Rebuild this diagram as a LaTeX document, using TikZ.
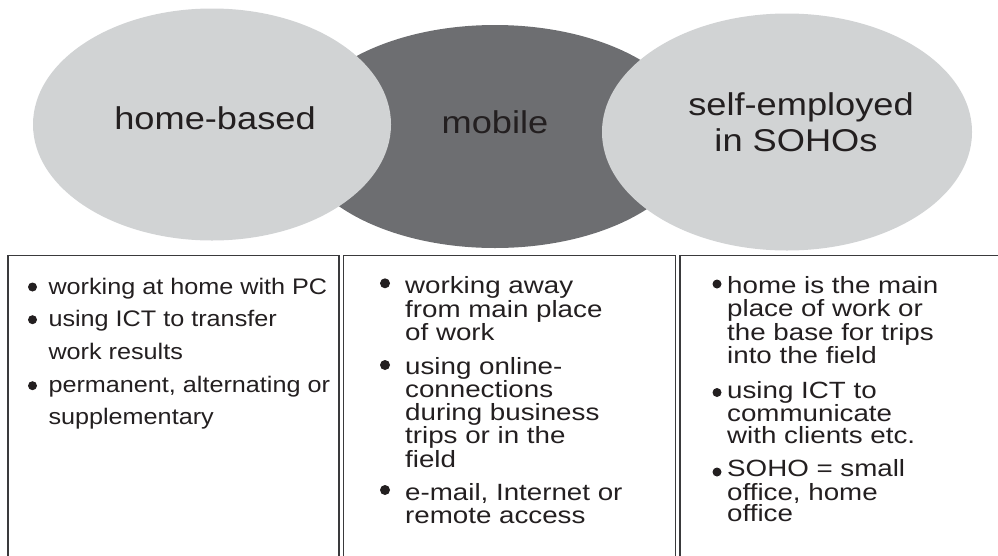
\documentclass[tikz,border=0pt]{standalone}
\usepackage{fontspec}
\setmainfont{Liberation Sans}
\newfontfamily\headfont[FakeStretch=1.15]{Liberation Sans}
\newfontfamily\boxfont[FakeStretch=1.18]{Liberation Sans}
\newfontfamily\boxfontA[FakeStretch=1.12]{Liberation Sans}
\usetikzlibrary{shapes.geometric}
\definecolor{lightg}{HTML}{D1D3D4}
\definecolor{darkg}{HTML}{6D6E71}
\definecolor{ink}{HTML}{231F20}
\definecolor{frame}{HTML}{3A3A3C}
\begin{document}
\begin{tikzpicture}[x=1pt,y=-1pt,
  blob/.style={ellipse, inner sep=0pt},
  head/.style={anchor=base, inner sep=0pt, text=ink, font=\headfont\fontsize{31.5}{36}\selectfont},
  panel/.style={draw=frame, line width=1.3pt, rectangle, anchor=north west, inner sep=0pt},
  itemA/.style={anchor=base west, inner sep=0pt, text=ink, font=\boxfontA\fontsize{22.5}{24}\selectfont},
  itemB/.style={anchor=base west, inner sep=0pt, text=ink, font=\boxfont\fontsize{23.5}{24}\selectfont},
  dot/.style={circle, fill=ink, inner sep=0pt, minimum size=#1},
  dot/.default=8pt]
\useasboundingbox (0,0) rectangle (998,555);
\clip (0,0) rectangle (998,555);
% ellipses
\node[blob, fill=darkg, minimum width=400pt, minimum height=223pt] (mob) at (495,136.5) {};
\node[blob, fill=lightg, minimum width=358pt, minimum height=232pt] (home) at (212,124.5) {};
\node[blob, fill=lightg, minimum width=370pt, minimum height=237pt] (soho) at (787,132) {};
\node[head] (thome) at (215,129.3) {home-based};
\node[head] (tmob) at (495,133.3) {mobile};
\node[head] (tsoho1) at (801,115) {self-employed};
\node[head] (tsoho2) at (796,151.7) {in SOHOs};
% panels
\node[panel, minimum width=331pt, minimum height=330pt] (p1) at (7.3,255) {};
\node[panel, minimum width=332.3pt, minimum height=330pt] (p2) at (342.7,255) {};
\node[panel, minimum width=340pt, minimum height=330pt] (p3) at (679.3,255) {};
% panel 1
\foreach \y/\t [count=\i] in {294/{working at home with PC}, 326.7/{using ICT to transfer}, 359.3/{work results}, 392.7/{permanent, alternating or}, 424.3/{supplementary}}
  \node[itemA] (a\i) at (48.3,\y) {\t};
\foreach \y [count=\i] in {287,319.7,385.7}
  \node[dot=9pt] (da\i) at (32.5,\y) {};
% panel 2
\foreach \y/\t [count=\i] in {293/{working away}, 317/{from main place}, 340/{of work}, 374/{using online-}, 397/{connections}, 420/{during business}, 443/{trips or in the}, 467/{field}, 500/{e-mail, Internet or}, 523/{remote access}}
  \node[itemB] (b\i) at (405,\y) {\t};
\foreach \y [count=\i] in {283.3,365,490}
  \node[dot=10pt] (db\i) at (385,\y) {};
% panel 3
\foreach \y/\t [count=\i] in {293.3/{home is the main}, 316.7/{place of work or}, 340/{the base for trips}, 363.3/{into the field}, 398.3/{using ICT to}, 421.7/{communicate}, 443.3/{with clients etc.}, 476.7/{SOHO = small}, 500/{office, home}, 521.7/{office}}
  \node[itemB] (c\i) at (727,\y) {\t};
\foreach \y [count=\i] in {284,392.5,472}
  \node[dot=9pt] (dc\i) at (717,\y) {};
\end{tikzpicture}
\end{document}
